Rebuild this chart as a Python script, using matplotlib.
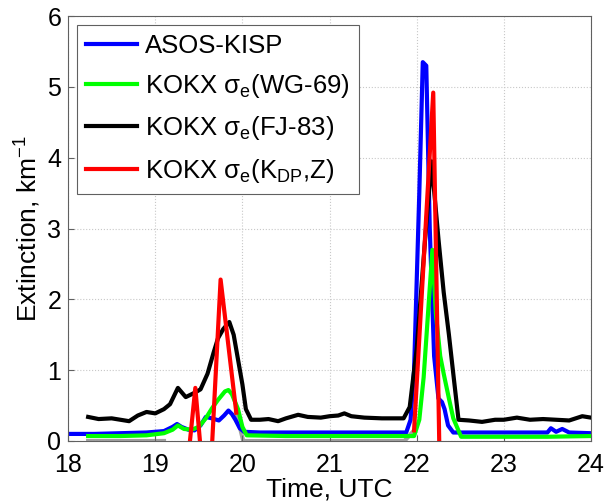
import numpy as np
import matplotlib
matplotlib.use('Agg')
import matplotlib.pyplot as plt

plt.rcParams['font.family'] = ['Liberation Sans', 'DejaVu Sans']
plt.rcParams['font.size'] = 17

# ASOS-KISP (blue)
t_asos = [18.0, 18.3, 18.6, 18.9, 19.1, 19.2, 19.25, 19.3, 19.38, 19.45, 19.52, 19.58,
          19.65, 19.73, 19.79, 19.84, 19.88, 19.92, 19.97, 20.02, 20.2, 20.6, 21.0, 21.5,
          21.88, 21.93, 21.97, 22.03, 22.07, 22.11, 22.15, 22.2, 22.25, 22.29, 22.32,
          22.36, 22.42, 22.8, 23.2, 23.5, 23.54, 23.6, 23.67, 23.75, 24.0]
v_asos = [0.10, 0.10, 0.11, 0.12, 0.14, 0.20, 0.24, 0.20, 0.16, 0.15, 0.22, 0.34,
          0.32, 0.29, 0.36, 0.43, 0.38, 0.30, 0.18, 0.13, 0.12, 0.12, 0.12, 0.12,
          0.12, 0.30, 1.00, 3.50, 5.35, 5.30, 3.00, 1.20, 0.60, 0.55, 0.45,
          0.22, 0.12, 0.12, 0.12, 0.12, 0.18, 0.13, 0.17, 0.12, 0.11]

# KOKX sigma_e (WG-69) (green)
t_wg = [18.23, 18.6, 18.9, 19.1, 19.2, 19.26, 19.33, 19.42, 19.5, 19.58, 19.65, 19.72,
        19.8, 19.84, 19.88, 19.95, 20.0, 20.05, 20.5, 21.0, 21.5, 21.97, 22.03, 22.08,
        22.13, 22.18, 22.22, 22.27, 22.31, 22.37, 22.42, 22.51, 23.0, 23.5, 24.0]
v_wg = [0.07, 0.07, 0.08, 0.11, 0.16, 0.22, 0.17, 0.16, 0.20, 0.32, 0.46, 0.58,
        0.70, 0.72, 0.66, 0.45, 0.20, 0.08, 0.07, 0.07, 0.07, 0.07, 0.30, 0.90,
        1.80, 2.70, 1.80, 1.20, 0.95, 0.60, 0.32, 0.06, 0.06, 0.06, 0.07]

# KOKX sigma_e (FJ-83) (black)
t_fj = [18.23, 18.35, 18.5, 18.6, 18.7, 18.8, 18.9, 19.0, 19.1, 19.17, 19.26, 19.35,
        19.45, 19.52, 19.6, 19.67, 19.72, 19.78, 19.85, 19.9, 19.95, 20.0, 20.04, 20.1,
        20.2, 20.3, 20.41, 20.5, 20.64, 20.75, 20.9, 21.0, 21.1, 21.17, 21.25, 21.4,
        21.6, 21.85, 21.92, 22.0, 22.1, 22.17, 22.25, 22.31, 22.37, 22.42, 22.48,
        22.6, 22.75, 22.9, 23.0, 23.15, 23.3, 23.45, 23.6, 23.75, 23.9, 24.0]
v_fj = [0.34, 0.31, 0.32, 0.30, 0.28, 0.36, 0.41, 0.39, 0.45, 0.52, 0.75, 0.62,
        0.68, 0.73, 0.95, 1.25, 1.45, 1.58, 1.68, 1.50, 1.15, 0.80, 0.45, 0.30,
        0.30, 0.31, 0.28, 0.32, 0.37, 0.34, 0.33, 0.35, 0.36, 0.39, 0.35, 0.33,
        0.32, 0.32, 0.48, 1.30, 2.90, 3.95, 2.85, 2.10, 1.50, 0.95, 0.30,
        0.29, 0.27, 0.30, 0.30, 0.33, 0.30, 0.31, 0.30, 0.29, 0.35, 0.33]

# KOKX sigma_e (KDP, Z) (red), gaps where no value
t_kdp = [19.39, 19.46, 19.52, 19.58, 19.65, 19.75, 19.93, 21.0, 21.97, 22.19, 22.26]
v_kdp = [-0.1, 0.75, -0.1, np.nan, -0.1, 2.28, 0.40, np.nan, 0.15, 4.92, -0.1]

# grey underlying trace
t_grey = [18.23, 19.1, 19.5, 19.93, 20.01, 21.86, 21.97]
v_grey = [0.0, 0.0, np.nan, 0.40, 0.0, 0.0, 0.15]

fig, ax = plt.subplots(figsize=(6.08, 5.04), dpi=100)
fig.subplots_adjust(left=0.112, right=0.972, top=0.968, bottom=0.125)

ax.plot(t_grey, v_grey, color='#a0a0a0', lw=3, zorder=1)
ax.plot(t_asos, v_asos, color='#0000ff', lw=3, label='ASOS-KISP', zorder=2)
ax.plot(t_wg, v_wg, color='#00ff00', lw=3, label=r'KOKX σ$_\mathregular{e}$(WG-69)', zorder=3)
ax.plot(t_fj, v_fj, color='#000000', lw=3, label=r'KOKX σ$_\mathregular{e}$(FJ-83)', zorder=4)
ax.plot(t_kdp, v_kdp, color='#ff0000', lw=3,
        label=r'KOKX σ$_\mathregular{e}$(K$_\mathregular{DP}$,Z)', zorder=5)

ax.set_xlim(18, 24)
ax.set_ylim(0, 6)
ax.set_xticks(range(18, 25))
ax.set_yticks(range(0, 7))
ax.grid(True, linestyle=':', color='#c8c8c8', lw=0.8)
ax.tick_params(direction='in', length=4, color='#606060', labelsize=18)
ax.tick_params(axis='x', pad=9)
ax.tick_params(axis='y', pad=5)
for s in ax.spines.values():
    s.set_color('#606060')
ax.set_xlabel('Time, UTC', fontsize=19, labelpad=0)
ax.set_ylabel(r'Extinction, km$^\mathregular{-1}$', fontsize=19, labelpad=4)

leg = ax.legend(loc='upper left', fancybox=False, framealpha=1, edgecolor='#606060',
                fontsize=18.5, handlelength=2.0, labelspacing=0.55, borderaxespad=0.35,
                handletextpad=0.3, borderpad=0.35)
leg.get_frame().set_linewidth(0.8)

fig.savefig('out.png', dpi=100)
